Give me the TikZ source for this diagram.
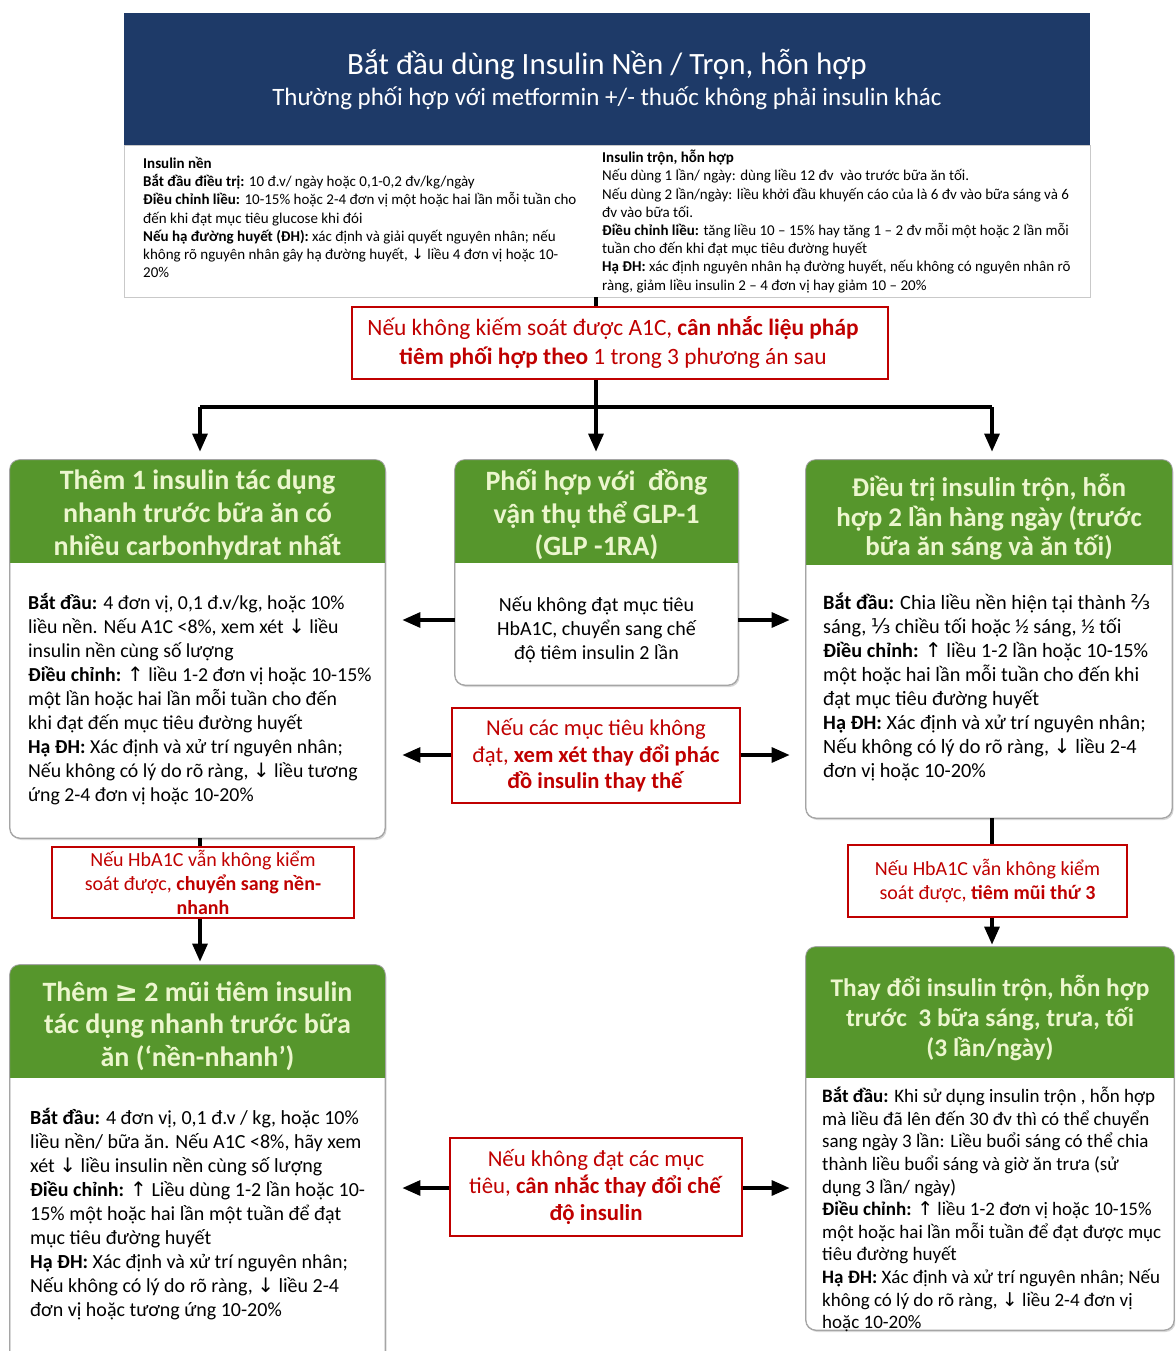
\documentclass[tikz,border=0pt]{standalone}
\usepackage{fontspec}
\setmainfont{Carlito}
\newfontfamily\symf{DejaVu Sans}
\usetikzlibrary{arrows.meta,shadows,calc}
\definecolor{navy}{RGB}{30,58,104}
\definecolor{hdgreen}{RGB}{86,150,44}
\definecolor{hdtext}{RGB}{236,246,206}
\definecolor{redc}{RGB}{192,0,0}
\definecolor{cardgray}{RGB}{165,165,165}
\newcommand{\fsz}[2]{\fontsize{#1}{#2}\selectfont}
\newcommand{\dna}{{\symf ↓}}
\newcommand{\upa}{{\symf ↑}}
\newcommand{\hdfill}[2]{%
  \begin{scope}
    \clip[rounded corners=10pt] (#1.north west) rectangle (#1.south east);
    \fill[hdgreen] (#1.north west) rectangle ($(#1.north east)+(0,#2)$);
  \end{scope}
  \draw[cardgray, line width=0.8pt, rounded corners=10pt] (#1.north west) rectangle (#1.south east);}
\tikzset{
  card/.style={draw=cardgray, line width=0.8pt, fill=white, rounded corners=10pt,
    drop shadow={opacity=0.3, shadow xshift=1.5pt, shadow yshift=-2pt}, inner sep=0pt},
  redbox/.style={draw=redc, line width=1.8pt, fill=white, text=redc, align=center, inner sep=0pt},
  hdtxt/.style={text=hdtext, align=center, inner sep=0pt},
  bodytxt/.style={align=left, anchor=north west, inner sep=0pt, text=black},
  ln/.style={line width=3.2pt, draw=black},
  arr/.style={ln, -{Triangle[length=18pt,width=15pt]}},
}
\begin{document}
\begin{tikzpicture}[x=1pt,y=-1pt]
\useasboundingbox (0,0) rectangle (1175,1351);
\clip (0,0) rectangle (1175,1351);
\fill[white] (0,0) rectangle (1175,1351);

% ---------- top header ----------
\node[fill=navy, minimum width=966pt, minimum height=132pt, inner sep=0pt] (hdr) at (607,79) {};
\node[text=white, font={\fsz{31}{36}}, inner sep=0pt] (title) at (607,65) {Bắt đầu dùng Insulin Nền / Trọn, hỗn hợp};
\node[text=white, font={\fsz{25}{30}}, inner sep=0pt] (subtitle) at (607,98) {Thường phối hợp với metformin +/- thuốc không phải insulin khác};

\node[draw=cardgray!60, fill=white, line width=0.6pt, minimum width=966pt, minimum height=152pt, inner sep=0pt] (topbox) at (607,221) {};
\node[bodytxt, font={\fsz{15}{18.2}}] (topL) at (143,157) {%
\textbf{Insulin nền}\\
\textbf{Bắt đầu điều trị:} 10 đ.v/ ngày hoặc 0,1-0,2 đv/kg/ngày\\
\textbf{Điều chỉnh liều:} 10-15\% hoặc 2-4 đơn vị một hoặc hai lần mỗi tuần cho\\
đến khi đạt mục tiêu glucose khi đói\\
\textbf{Nếu hạ đường huyết (ĐH):} xác định và giải quyết nguyên nhân; nếu\\
không rõ nguyên nhân gây hạ đường huyết, \dna{} liều 4 đơn vị hoặc 10-\\
20\%};
\node[bodytxt, font={\fsz{15}{18.2}}] (topR) at (602,150) {%
\textbf{Insulin trộn, hỗn hợp}\\
Nếu dùng 1 lần/ ngày: dùng liều 12 đv\ \ vào trước bữa ăn tối.\\
Nếu dùng 2 lần/ngày: liều khởi đầu khuyến cáo của là 6 đv vào bữa sáng và 6\\
đv vào bữa tối.\\
\textbf{Điều chỉnh liều:} tăng liều 10 – 15\% hay tăng 1 – 2 đv mỗi một hoặc 2 lần mỗi\\
tuần cho đến khi đạt mục tiêu đường huyết\\
\textbf{Hạ ĐH:} xác định nguyên nhân hạ đường huyết, nếu không có nguyên nhân rõ\\
ràng, giảm liều insulin 2 – 4 đơn vị hay giảm 10 – 20\%};

% ---------- red box 1 ----------
\node[redbox, minimum width=536pt, minimum height=72pt] (RB1) at (620,343) {};
\node[text=redc, align=center, inner sep=0pt, font={\fsz{23.4}{29}}] (RB1t) at (613,343)
{Nếu không kiếm soát được A1C, \textbf{cân nhắc liệu pháp}\\ \textbf{tiêm phối hợp theo} 1 trong 3 phương án sau};

% ---------- cards ----------
\node[card, minimum width=375pt, minimum height=378pt] (L1) at (197.5,649) {};
\hdfill{L1}{103}
\node[card, minimum width=283pt, minimum height=225pt] (M1) at (596.5,572.5) {};
\hdfill{M1}{103}
\node[card, minimum width=366pt, minimum height=358pt] (R1) at (989,639) {};
\hdfill{R1}{105}
\node[card, minimum width=375pt, minimum height=400pt] (L2) at (197.5,1165) {};
\hdfill{L2}{113}
\node[card, minimum width=368pt, minimum height=383pt] (R2) at (990,1138.5) {};
\hdfill{R2}{131}

% header texts
\node[hdtxt, font={\fsz{28}{33}\bfseries}] (L1h) at (197.5,515) {Thêm 1 insulin tác dụng\\ nhanh trước bữa ăn có\\ nhiều carbonhydrat nhất};
\node[hdtxt, font={\fsz{28}{32.5}\bfseries}] (M1h) at (596.5,515) {Phối hợp với\ \ đồng\\ vận thụ thể GLP-1\\ (GLP -1RA)};
\node[hdtxt, font={\fsz{27}{29.5}\bfseries}] (R1h) at (989,517) {Điều trị insulin trộn, hỗn\\ hợp 2 lần hàng ngày (trước\\ bữa ăn sáng và ăn tối)};
\node[hdtxt, font={\fsz{28}{32.5}\bfseries}] (L2h) at (197.5,1026) {Thêm {\symf ≥} 2 mũi tiêm insulin\\ tác dụng nhanh trước bữa\\ ăn (‘nền-nhanh’)};
\node[hdtxt, font={\fsz{25.4}{30}\bfseries}] (R2h) at (990,1018) {Thay đổi insulin trộn, hỗn hợp\\ trước\ \ 3 bữa sáng, trưa, tối\\ (3 lần/ngày)};

% body texts
\node[bodytxt, font={\fsz{19.8}{24}}] (L1b) at (28,593) {%
\textbf{Bắt đầu:} 4 đơn vị, 0,1 đ.v/kg, hoặc 10\%\\
liều nền. Nếu A1C <8\%, xem xét \dna{} liều\\
insulin nền cùng số lượng\\
\textbf{Điều chỉnh:} \upa{} liều 1-2 đơn vị hoặc 10-15\%\\
một lần hoặc hai lần mỗi tuần cho đến\\
khi đạt đến mục tiêu đường huyết\\
\textbf{Hạ ĐH:} Xác định và xử trí nguyên nhân;\\
Nếu không có lý do rõ ràng, \dna{} liều tương\\
ứng 2-4 đơn vị hoặc 10-20\%};
\node[align=center, inner sep=0pt, font={\fsz{20}{24}}] (M1b) at (596.5,630) {Nếu không đạt mục tiêu\\ HbA1C, chuyển sang chế\\ độ tiêm insulin 2 lần};
\node[bodytxt, font={\fsz{20.3}{24}}] (R1b) at (823,593) {%
\textbf{Bắt đầu:} Chia liều nền hiện tại thành {\symf ⅔}\\
sáng, {\symf ⅓} chiều tối hoặc ½ sáng, ½ tối\\
\textbf{Điều chỉnh:} \upa{} liều 1-2 lần hoặc 10-15\%\\
một hoặc hai lần mỗi tuần cho đến khi\\
đạt mục tiêu đường huyết\\
\textbf{Hạ ĐH:} Xác định và xử trí nguyên nhân;\\
Nếu không có lý do rõ ràng, \dna{} liều 2-4\\
đơn vị hoặc 10-20\%};
\node[bodytxt, font={\fsz{20}{24}}] (L2b) at (30,1108) {%
\textbf{Bắt đầu:} 4 đơn vị, 0,1 đ.v / kg, hoặc 10\%\\
liều nền/ bữa ăn. Nếu A1C <8\%, hãy xem\\
xét \dna{} liều insulin nền cùng số lượng\\
\textbf{Điều chỉnh:} \upa{} Liều dùng 1-2 lần hoặc 10-\\
15\% một hoặc hai lần một tuần để đạt\\
mục tiêu đường huyết\\
\textbf{Hạ ĐH:} Xác định và xử trí nguyên nhân;\\
Nếu không có lý do rõ ràng, \dna{} liều 2-4\\
đơn vị hoặc tương ứng 10-20\%};
\node[bodytxt, font={\fsz{19}{22.6}}] (R2b) at (822,1087) {%
\textbf{Bắt đầu:} Khi sử dụng insulin trộn , hỗn hợp\\
mà liều đã lên đến 30 đv thì có thể chuyển\\
sang ngày 3 lần: Liều buổi sáng có thể chia\\
thành liều buổi sáng và giờ ăn trưa (sử\\
dụng 3 lần/ ngày)\\
\textbf{Điều chỉnh:} \upa{} liều 1-2 đơn vị hoặc 10-15\%\\
một hoặc hai lần mỗi tuần để đạt được mục\\
tiêu đường huyết\\
\textbf{Hạ ĐH:} Xác định và xử trí nguyên nhân; Nếu\\
không có lý do rõ ràng, \dna{} liều 2-4 đơn vị\\
hoặc 10-20\%};

% ---------- red boxes ----------
\node[redbox, minimum width=288pt, minimum height=95pt, font={\fsz{22.6}{26.5}}] (RBm) at (596,755.5)
{Nếu các mục tiêu không\\ đạt, \textbf{xem xét thay đổi phác}\\ \textbf{đồ insulin thay thế}};
\node[redbox, minimum width=302pt, minimum height=71pt, font={\fsz{20}{24}}] (RBL) at (203,882.5)
{Nếu HbA1C vẫn không kiểm\\ soát được, \textbf{chuyển sang nền-}\\ \textbf{nhanh}};
\node[redbox, minimum width=279pt, minimum height=72pt, font={\fsz{20}{24}}] (RBR) at (987.5,881)
{Nếu HbA1C vẫn không kiểm\\ soát được, \textbf{tiêm mũi thứ 3}};
\node[redbox, minimum width=292pt, minimum height=98pt, font={\fsz{22.8}{27}}] (RBb) at (596,1187)
{Nếu không đạt các mục\\ tiêu, \textbf{cân nhắc thay đổi chế}\\ \textbf{độ insulin}};

% ---------- connectors ----------
\coordinate (sp) at (596,407);
\coordinate (bl) at (200,407);
\coordinate (br) at (992,407);
\coordinate (ya) at (0,620);
\coordinate (yb) at (0,755);
\coordinate (yc) at (0,1188);
\coordinate (xl) at (200,0);
\coordinate (xr) at (992,0);

\draw[ln] (topbox.south -| sp) -- (RB1.north -| sp);
\draw[ln] (RB1.south -| sp) -- (sp);
\draw[ln] (bl) -- (br);
\draw[arr, shorten >=8pt] (bl) -- (bl |- L1.north);
\draw[arr, shorten >=8pt] (sp) -- (sp |- M1.north);
\draw[arr, shorten >=8pt] (br) -- (br |- R1.north);

\draw[arr, shorten >=17pt] (M1.west |- ya) -- (L1.east |- ya);
\draw[arr, shorten >=16pt] (M1.east |- ya) -- (R1.west |- ya);
\draw[arr, shorten >=17pt] (RBm.west |- yb) -- (L1.east |- yb);
\draw[arr, shorten >=16pt] (RBm.east |- yb) -- (R1.west |- yb);
\draw[arr, shorten >=17pt] (RBb.west |- yc) -- (L2.east |- yc);
\draw[arr, shorten >=16pt] (RBb.east |- yc) -- (R2.west |- yc);

\draw[ln] (L1.south -| xl) -- (RBL.north -| xl);
\draw[arr, shorten >=3pt] (RBL.south -| xl) -- (L2.north -| xl);
\draw[ln] (R1.south -| xr) -- (RBR.north -| xr);
\draw[arr, shorten >=2pt] (RBR.south -| xr) -- (R2.north -| xr);
\end{tikzpicture}
\end{document}
